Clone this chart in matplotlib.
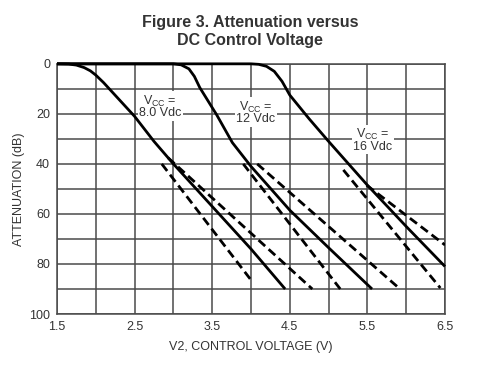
import matplotlib
matplotlib.use("Agg")
import matplotlib.pyplot as plt

plt.rcParams['font.family'] = ['Liberation Sans', 'DejaVu Sans']

# typical curves (solid)
v8_x = [1.5, 1.65, 1.75, 1.85, 1.93, 2.0, 2.1, 2.5, 2.75, 3.0, 3.5, 4.0, 4.44]
v8_y = [0, 0.1, 0.5, 1.5, 2.8, 4.5, 7.5, 21, 31, 40, 57, 74, 90]
v12_x = [1.5, 3.0, 3.1, 3.2, 3.27, 3.34, 3.56, 3.76, 4.0, 4.5, 5.0, 5.56]
v12_y = [0, 0, 0.4, 2, 5, 9.5, 20.5, 31.5, 41, 58.5, 73.5, 90]
v16_x = [1.5, 4.0, 4.1, 4.2, 4.3, 4.4, 4.5, 4.75, 5.0, 5.5, 6.0, 6.5]
v16_y = [0, 0, 0.2, 1, 3, 7, 12.5, 22, 31, 48.5, 65, 81]

# spread curves (dashed)
v8_lo_x, v8_lo_y = [2.85, 3.99], [40, 86]
v8_hi_x, v8_hi_y = [2.93, 4.79], [37.5, 90]
v12_lo_x, v12_lo_y = [3.9, 5.15], [40, 90]
v12_hi_x, v12_hi_y = [4.08, 5.92], [40, 90]
v16_lo_x, v16_lo_y = [5.19, 6.44], [42.4, 89.6]
v16_hi_x, v16_hi_y = [5.49, 6.5], [48.5, 72.4]

labels = ["V$_\\mathregular{CC}$ =\n8.0 Vdc", "V$_\\mathregular{CC}$ =\n12 Vdc",
          "V$_\\mathregular{CC}$ =\n16 Vdc"]
label_x = [2.83, 4.06, 5.57]
label_y = [17, 19.5, 30.5]

fig = plt.figure(figsize=(5, 3.69), dpi=100)
ax = fig.add_axes([0.114, 0.149, 0.776, 0.678])

grid_c = '#4a4a4a'
for sx, sy in [(v8_x, v8_y), (v12_x, v12_y), (v16_x, v16_y)]:
    ax.plot(sx, sy, color='black', lw=2, clip_on=False, zorder=3,
            solid_capstyle='butt')
for dx, dy in [(v8_lo_x, v8_lo_y), (v8_hi_x, v8_hi_y), (v12_lo_x, v12_lo_y),
               (v12_hi_x, v12_hi_y), (v16_lo_x, v16_lo_y), (v16_hi_x, v16_hi_y)]:
    ax.plot(dx, dy, color='black', lw=2, dashes=(3.2, 1.7), zorder=3)

for t, x, y in zip(labels, label_x, label_y):
    ax.text(x, y, t, ha='center', va='center', fontsize=9, color='#333333',
            linespacing=0.85, zorder=2,
            bbox=dict(facecolor='white', edgecolor='none', pad=1))

ax.set_xlim(1.5, 6.5)
ax.set_ylim(100, 0)
ax.set_xticks([1.5, 2.5, 3.5, 4.5, 5.5, 6.5])
ax.set_xticks([2.0, 3.0, 4.0, 5.0, 6.0], minor=True)
ax.set_yticks(range(0, 101, 20))
ax.set_yticks(range(10, 100, 20), minor=True)
ax.grid(True, which='both', color=grid_c, lw=1.1)
ax.tick_params(which='both', length=0, labelsize=9, colors='#333333', pad=5)
for s in ax.spines.values():
    s.set_color(grid_c)
    s.set_linewidth(1.1)

ax.set_xlabel("V2, CONTROL VOLTAGE (V)", fontsize=9, color='#333333', labelpad=6)
ax.set_ylabel("ATTENUATION (dB)", fontsize=9, color='#333333', labelpad=3)

fig.text(0.5, 0.915, "Figure 3. Attenuation versus\nDC Control Voltage",
         ha='center', va='center', fontsize=11.5, fontweight='bold',
         color='#333333', linespacing=1.25)

fig.savefig("out.png", dpi=100)
